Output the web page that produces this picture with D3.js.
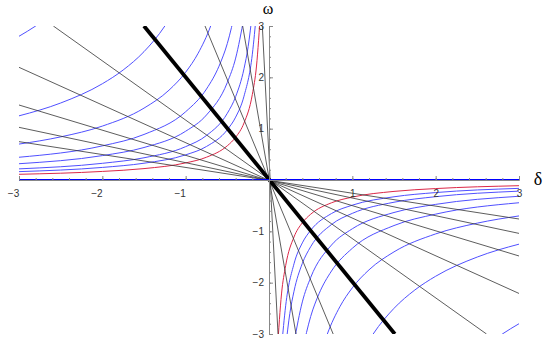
<!DOCTYPE html>
<html>
<head>
<meta charset="utf-8">
<script src="https://cdn.jsdelivr.net/npm/d3@7"></script>
<style>
  body { margin: 0; background: #fff; }
  svg { display: block; }
  .tick text { font-family: "Liberation Sans", Arial, sans-serif; font-size: 10px; fill: #333; }
</style>
</head>
<body>
<div id="grafico"></div>
<script>
// valores (delta, omega)
const TICKS_X = [-3, -2, -1, 1, 2, 3];
const TICKS_Y = [-3, -2, -1, 1, 2, 3];

// curva roja (cuadrante 2)
const CURVA_ROJA = [[-3.2, 0.104], [-3, 0.111], [-2, 0.167], [-1.5, 0.222], [-1, 0.333], [-0.75, 0.444], [-0.5, 0.667],
  [-0.4, 0.833], [-0.3, 1.11], [-0.2, 1.667], [-0.15, 2.22], [-0.1, 3.33]];

// curvas azules (cuadrante 2)
const AZUL_1 = [[-3.2, 0.153], [-3, 0.163], [-2, 0.245], [-1.5, 0.327], [-1, 0.49], [-0.75, 0.653], [-0.5, 0.98],
  [-0.4, 1.225], [-0.3, 1.633], [-0.2, 2.45], [-0.15, 3.27]];
const AZUL_2 = [[-3.2, 0.203], [-3, 0.217], [-2, 0.325], [-1.5, 0.433], [-1, 0.65], [-0.75, 0.867], [-0.5, 1.3],
  [-0.4, 1.625], [-0.3, 2.167], [-0.25, 2.6], [-0.2, 3.25]];
const AZUL_3 = [[-3.2, 0.297], [-3, 0.317], [-2, 0.475], [-1.5, 0.633], [-1, 0.95], [-0.75, 1.267], [-0.5, 1.9],
  [-0.4, 2.375], [-0.3, 3.167]];
const AZUL_4 = [[-3.2, 0.416], [-3, 0.443], [-2, 0.665], [-1.5, 0.887], [-1, 1.33], [-0.75, 1.773], [-0.6, 2.217],
  [-0.5, 2.66], [-0.4, 3.325]];
const AZUL_5 = [[-3.2, 0.656], [-3, 0.70], [-2.5, 0.84], [-2, 1.05], [-1.5, 1.40], [-1.2, 1.75], [-1, 2.10],
  [-0.85, 2.47], [-0.7, 3.0], [-0.6, 3.5]];
const AZUL_6 = [[-3.2, 1.17], [-3, 1.25], [-2.5, 1.5], [-2, 1.875], [-1.75, 2.143], [-1.5, 2.5], [-1.25, 3.0], [-1.1, 3.41]];
const AZUL_7 = [[-3.2, 2.625], [-3, 2.8], [-2.8, 3.0], [-2.6, 3.23]];

// rectas por el origen: extremo en el cuadrante 2 y extremo en el cuadrante 4
const RECTAS = [
  [[-3, 0.747], [3, -0.76]],
  [[-3, 1.026], [3, -1.04]],
  [[-3, 1.461], [3, -1.48]],
  [[-3, 2.195], [3, -2.21]],
  [[-2.588, 3], [2.61, -3]],
  [[-0.768, 3], [0.77, -3]],
  [[-0.316, 3], [0.324, -3]],
  [[-0.08, 3], [0.108, -3]]
];
const RECTA_GRUESA = [[-1.5, 3], [1.51, -3]];

const WIDTH_VIS = 554;
const HEIGHT_VIS = 342;

const SVG = d3.select("#grafico").append("svg").attr("width", WIDTH_VIS).attr("height", HEIGHT_VIS);

const escalaX = d3.scaleLinear().domain([-3, 3]).range([19, 519]);
const escalaY = d3.scaleLinear().domain([-3, 3]).range([334, 26]);

SVG.append("clipPath").attr("id", "recorte")
  .append("rect")
  .attr("x", escalaX(-3)).attr("y", escalaY(3))
  .attr("width", escalaX(3) - escalaX(-3)).attr("height", escalaY(-3) - escalaY(3));

const linea = d3.line()
  .x(d => escalaX(d[0]))
  .y(d => escalaY(d[1]))
  .curve(d3.curveMonotoneX);

const recta = d3.line().x(d => escalaX(d[0])).y(d => escalaY(d[1]));

const grafico = SVG.append("g").attr("clip-path", "url(#recorte)");

// las curvas son simetricas respecto al origen: se dibujan tambien giradas 180 grados
const girar = pts => pts.map(p => [-p[0], -p[1]]).reverse();

const azules = [AZUL_1, AZUL_2, AZUL_3, AZUL_4, AZUL_5, AZUL_6, AZUL_7];
azules.concat(azules.map(girar)).forEach(function(c) {
  grafico.append("path")
    .attr("d", linea(c))
    .attr("fill", "none")
    .attr("stroke", "#5050ff")
    .attr("stroke-width", 1);
});

[CURVA_ROJA, girar(CURVA_ROJA)].forEach(function(c) {
  grafico.append("path")
    .attr("d", linea(c))
    .attr("fill", "none")
    .attr("stroke", "#dc2848")
    .attr("stroke-width", 1);
});

// ejes
const ejeX = d3.axisBottom(escalaX).tickValues(TICKS_X).tickSizeInner(-4).tickSizeOuter(0).tickPadding(10)
  .tickFormat(d3.format("d"));
const ejeXmenor = d3.axisBottom(escalaX).tickValues(d3.range(-30, 31, 2).map(v => v / 10)).tickSizeInner(-2)
  .tickSizeOuter(0).tickFormat("");
const ejeY = d3.axisLeft(escalaY).tickValues(TICKS_Y).tickSizeInner(-4).tickSizeOuter(0).tickPadding(5)
  .tickFormat(d3.format("d"));
const ejeYmenor = d3.axisLeft(escalaY).tickValues(d3.range(-30, 31, 2).map(v => v / 10)).tickSizeInner(-2)
  .tickSizeOuter(0).tickFormat("");

[ejeXmenor, ejeX].forEach(function(e) {
  SVG.append("g").attr("transform", "translate(0," + escalaY(0) + ")").call(e)
    .call(g => g.selectAll("line").attr("stroke", "#888"))
    .call(g => g.select(".domain").attr("stroke", "#888"))
    .call(g => g.selectAll("text").attr("dx", d => d < 0 ? -6 : 0));
});
[ejeYmenor, ejeY].forEach(function(e) {
  SVG.append("g").attr("transform", "translate(" + escalaX(0) + ",0)").call(e)
    .call(g => g.selectAll("line").attr("stroke", "#888"))
    .call(g => g.select(".domain").attr("stroke", "#888"));
});

// rectas negras
RECTAS.forEach(function(r) {
  grafico.append("path")
    .attr("d", recta(r))
    .attr("fill", "none")
    .attr("stroke", "#333")
    .attr("stroke-width", 0.8);
});

grafico.append("path")
  .attr("d", recta(RECTA_GRUESA))
  .attr("fill", "none")
  .attr("stroke", "#000")
  .attr("stroke-width", 3.8);

// omega = 0 en azul
grafico.append("path")
  .attr("d", recta([[-3, 0], [3, 0]]))
  .attr("stroke", "#0000ff")
  .attr("stroke-width", 2);

// etiquetas de los ejes
SVG.append("text")
  .attr("x", escalaX(0) - 1).attr("y", 14)
  .attr("text-anchor", "middle")
  .style("font-family", "'Liberation Serif', 'Times New Roman', serif")
  .style("font-size", "16px")
  .text("ω");

SVG.append("text")
  .attr("x", 538).attr("y", escalaY(0) + 5)
  .attr("text-anchor", "middle")
  .style("font-family", "'Liberation Serif', 'Times New Roman', serif")
  .style("font-size", "18px")
  .text("δ");
</script>
</body>
</html>
